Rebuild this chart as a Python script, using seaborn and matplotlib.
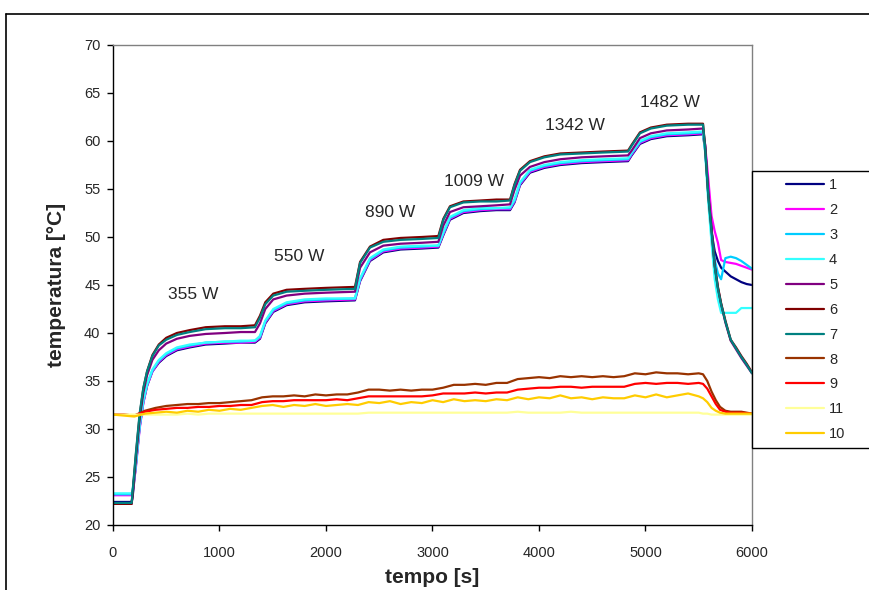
import matplotlib
matplotlib.use("Agg")
import matplotlib.pyplot as plt
from matplotlib.lines import Line2D
from matplotlib.patches import Rectangle
import pandas as pd
import seaborn as sns

sns.set_theme(style="ticks")
plt.rcParams["font.family"] = ["Liberation Sans", "DejaVu Sans"]

# sampling times of the heated sensors (1-7)
t_main = [0, 175, 185, 215, 250, 285, 320, 370, 430, 500, 600, 720, 870, 1050, 1200, 1333,
          1380, 1430, 1505, 1630, 1800, 2000, 2272,
          2320, 2413, 2538, 2700, 2900, 3055,
          3102, 3164, 3290, 3450, 3600, 3728,
          3770, 3822, 3915, 4050, 4200, 4400, 4600, 4836,
          4870, 4948, 5050, 5200, 5400, 5540,
          5560, 5590, 5620, 5650, 5680, 5710, 5750, 5800, 5850, 5900, 5950, 6000]

T1 = [22.4, 22.4, 23.0, 26.3, 30.2, 32.8, 34.5, 36.0, 36.9, 37.6, 38.2, 38.5, 38.8, 38.9, 39.0, 39.0,
      39.4, 41.0, 42.2, 42.9, 43.2, 43.3, 43.4,
      45.4, 47.5, 48.4, 48.7, 48.8, 48.9,
      50.2, 51.8, 52.5, 52.7, 52.8, 52.8,
      53.6, 55.4, 56.7, 57.2, 57.5, 57.7, 57.8, 57.9,
      58.5, 59.7, 60.2, 60.5, 60.6, 60.7,
      59.0, 54.5, 50.5, 48.5, 47.5, 46.8, 46.4, 45.9, 45.6, 45.3, 45.1, 45.0]
T2 = [23.1, 23.1, 23.5, 26.0, 30.0, 32.7, 34.5, 36.0, 37.0, 37.7, 38.3, 38.6, 38.9, 39.0, 39.0, 39.1,
      39.5, 41.1, 42.3, 43.0, 43.3, 43.4, 43.5,
      45.5, 47.6, 48.5, 48.8, 48.9, 49.0,
      50.3, 51.9, 52.6, 52.8, 52.9, 52.9,
      53.7, 55.5, 56.8, 57.3, 57.6, 57.8, 57.9, 58.0,
      58.6, 59.8, 60.3, 60.6, 60.7, 60.8,
      59.6, 56.0, 52.2, 50.6, 49.4, 47.6, 47.4, 47.3, 47.2, 47.0, 46.8, 46.6]
T3 = [23.2, 23.2, 23.6, 26.2, 30.2, 32.9, 34.6, 36.1, 37.1, 37.8, 38.4, 38.7, 39.0, 39.1, 39.1, 39.2,
      39.6, 41.2, 42.4, 43.1, 43.4, 43.5, 43.6,
      45.6, 47.7, 48.6, 48.9, 49.0, 49.1,
      50.4, 52.0, 52.7, 52.9, 53.0, 53.0,
      53.8, 55.6, 56.9, 57.4, 57.7, 57.9, 58.0, 58.1,
      58.7, 59.9, 60.4, 60.7, 60.8, 60.9,
      59.2, 54.4, 50.6, 47.6, 46.2, 45.6, 47.8, 47.95, 47.8, 47.5, 47.1, 46.7]
T4 = [23.3, 23.3, 23.7, 26.4, 30.4, 33.0, 34.7, 36.2, 37.2, 37.9, 38.5, 38.8, 39.0, 39.1, 39.2, 39.2,
      39.7, 41.3, 42.5, 43.2, 43.5, 43.6, 43.6,
      45.7, 47.8, 48.7, 49.0, 49.1, 49.1,
      50.5, 52.1, 52.8, 53.0, 53.0, 53.1,
      53.9, 55.7, 57.0, 57.5, 57.8, 58.0, 58.1, 58.2,
      58.8, 60.0, 60.5, 60.8, 60.9, 61.0,
      58.8, 53.5, 49.4, 45.6, 43.5, 42.1, 42.1, 42.1, 42.1, 42.6, 42.6, 42.6]
T5 = [22.2, 22.2, 23.2, 26.9, 31.0, 33.8, 35.6, 37.2, 38.2, 38.9, 39.4, 39.7, 39.9, 40.0, 40.1, 40.1,
      41.0, 42.5, 43.5, 43.9, 44.1, 44.2, 44.3,
      46.8, 48.4, 49.1, 49.3, 49.4, 49.5,
      51.2, 52.6, 53.1, 53.2, 53.3, 53.4,
      54.9, 56.4, 57.3, 57.8, 58.1, 58.3, 58.4, 58.5,
      59.0, 60.3, 60.8, 61.1, 61.2, 61.3,
      59.6, 54.6, 51.0, 47.1, 44.7, 43.0, 41.1, 39.2, 38.3, 37.4, 36.6, 35.8]
T6 = [22.2, 22.2, 23.4, 27.3, 31.4, 34.2, 36.0, 37.7, 38.8, 39.5, 40.0, 40.3, 40.6, 40.7, 40.7, 40.8,
      41.8, 43.2, 44.1, 44.5, 44.6, 44.7, 44.8,
      47.4, 49.0, 49.7, 49.9, 50.0, 50.1,
      51.9, 53.2, 53.7, 53.8, 53.9, 53.9,
      55.5, 57.0, 57.9, 58.4, 58.7, 58.8, 58.9, 59.0,
      59.6, 60.9, 61.4, 61.7, 61.8, 61.8,
      59.4, 54.3, 50.8, 47.0, 44.8, 43.1, 41.3, 39.3, 38.5, 37.6, 36.8, 35.9]
T7 = [22.3, 22.3, 23.6, 27.5, 31.6, 34.3, 36.0, 37.6, 38.7, 39.3, 39.8, 40.1, 40.4, 40.5, 40.5, 40.6,
      41.6, 43.0, 43.9, 44.3, 44.4, 44.5, 44.6,
      47.3, 48.9, 49.5, 49.7, 49.8, 49.9,
      51.8, 53.1, 53.6, 53.7, 53.7, 53.8,
      55.4, 56.9, 57.8, 58.3, 58.6, 58.7, 58.8, 58.9,
      59.5, 60.8, 61.3, 61.6, 61.7, 61.7,
      59.3, 54.2, 50.6, 46.9, 44.6, 43.0, 41.2, 39.3, 38.4, 37.5, 36.7, 35.8]

# sampling times of the outer sensors (8-11)
t_low = [0, 100, 200, 300, 400, 500, 600, 700, 800, 900,
         1000, 1100, 1200, 1300, 1400, 1500, 1600, 1700, 1800, 1900,
         2000, 2100, 2200, 2300, 2400, 2500, 2600, 2700, 2800, 2900,
         3000, 3100, 3200, 3300, 3400, 3500, 3600, 3700, 3800, 3900,
         4000, 4100, 4200, 4300, 4400, 4500, 4600, 4700, 4800, 4900,
         5000, 5100, 5200, 5300, 5400, 5500,
         5540, 5580, 5620, 5660, 5700, 5750, 5800, 5900, 6000]

T8 = [31.5, 31.5, 31.4, 31.9, 32.2, 32.4, 32.5, 32.6, 32.6, 32.7,
      32.7, 32.8, 32.9, 33.0, 33.3, 33.4, 33.4, 33.5, 33.4, 33.6,
      33.5, 33.6, 33.6, 33.8, 34.1, 34.1, 34.0, 34.1, 34.0, 34.1,
      34.1, 34.3, 34.6, 34.6, 34.7, 34.6, 34.8, 34.8, 35.2, 35.3,
      35.4, 35.3, 35.5, 35.4, 35.5, 35.4, 35.5, 35.4, 35.5, 35.8,
      35.7, 35.9, 35.8, 35.8, 35.7, 35.8,
      35.7, 35.0, 33.9, 33.0, 32.3, 31.9, 31.8, 31.8, 31.6]
T9 = [31.5, 31.5, 31.4, 31.8, 32.0, 32.1, 32.2, 32.2, 32.3, 32.3,
      32.4, 32.4, 32.5, 32.5, 32.8, 32.9, 32.9, 33.0, 33.0, 33.0,
      33.0, 33.1, 33.0, 33.2, 33.4, 33.4, 33.4, 33.4, 33.4, 33.4,
      33.5, 33.7, 33.7, 33.7, 33.8, 33.7, 33.8, 33.8, 34.1, 34.2,
      34.3, 34.3, 34.4, 34.4, 34.3, 34.4, 34.4, 34.4, 34.4, 34.7,
      34.8, 34.7, 34.8, 34.8, 34.7, 34.8,
      34.7, 34.2, 33.4, 32.6, 32.0, 31.8, 31.7, 31.7, 31.6]
T10 = [31.5, 31.4, 31.3, 31.6, 31.7, 31.8, 31.7, 31.9, 31.8, 32.0,
       31.9, 32.1, 32.0, 32.2, 32.4, 32.5, 32.3, 32.5, 32.4, 32.6,
       32.4, 32.5, 32.6, 32.5, 32.8, 32.7, 32.9, 32.6, 32.8, 32.7,
       33.0, 32.8, 33.1, 32.9, 33.0, 32.9, 33.1, 33.0, 33.3, 33.1,
       33.3, 33.2, 33.5, 33.2, 33.3, 33.1, 33.3, 33.2, 33.2, 33.5,
       33.3, 33.6, 33.3, 33.5, 33.7, 33.4,
       33.2, 32.8, 32.2, 31.9, 31.7, 31.6, 31.6, 31.6, 31.6]
T11 = [31.5, 31.5, 31.5, 31.5, 31.5, 31.5, 31.5, 31.6, 31.5, 31.6,
       31.6, 31.6, 31.6, 31.6, 31.6, 31.6, 31.6, 31.6, 31.6, 31.6,
       31.6, 31.6, 31.6, 31.6, 31.7, 31.7, 31.7, 31.7, 31.7, 31.7,
       31.7, 31.7, 31.7, 31.7, 31.7, 31.7, 31.7, 31.7, 31.8, 31.7,
       31.7, 31.7, 31.7, 31.8, 31.7, 31.7, 31.7, 31.7, 31.7, 31.7,
       31.7, 31.7, 31.7, 31.7, 31.7, 31.7,
       31.6, 31.6, 31.5, 31.5, 31.5, 31.5, 31.5, 31.5, 31.5]

# heating power steps: label, time, temperature position
power_labels = ["355 W", "550 W", "890 W", "1009 W", "1342 W", "1482 W"]
power_t = [751, 1746, 2601, 3390, 4338, 5230]
power_T = [44.0, 48.0, 52.6, 55.8, 61.6, 64.0]

order = ["1", "2", "3", "4", "5", "6", "7", "8", "9", "11", "10"]
colors = {"1": "#000080", "2": "#FF00FF", "3": "#00CCFF", "4": "#33FFFF",
          "5": "#800080", "6": "#800000", "7": "#008080", "8": "#993300",
          "9": "#FF0000", "11": "#FFFF99", "10": "#FFCC00"}

series = {"1": (t_main, T1), "2": (t_main, T2), "3": (t_main, T3), "4": (t_main, T4),
          "5": (t_main, T5), "6": (t_main, T6), "7": (t_main, T7),
          "8": (t_low, T8), "9": (t_low, T9), "11": (t_low, T11), "10": (t_low, T10)}
df = pd.concat([pd.DataFrame({"tempo": t, "temperatura": T, "sensore": k})
                for k, (t, T) in series.items()], ignore_index=True)

fig = plt.figure(figsize=(8.7, 5.9), dpi=100)
ax = fig.add_axes([113 / 870, 1 - 525 / 590, 639 / 870, 480 / 590])

sns.lineplot(data=df, x="tempo", y="temperatura", hue="sensore", hue_order=order,
             palette=colors, estimator=None, sort=False, linewidth=1.6, ax=ax)

handles, labels = ax.get_legend_handles_labels()
ax.get_legend().remove()

ax.set_xlim(0, 6000)
ax.set_ylim(20, 70)
ax.set_xticks(range(0, 6001, 1000))
ax.set_yticks(range(20, 71, 5))
ax.tick_params(direction="out", length=4, width=1, color="black", labelsize=10.5)
ax.tick_params(axis="x", pad=11)
ax.tick_params(axis="y", pad=5)
ax.set_xlabel("tempo [s]", fontsize=15, fontweight="bold", labelpad=6)
ax.set_ylabel("temperatura [°C]", fontsize=15, fontweight="bold", labelpad=13)
for side in ["left", "bottom"]:
    ax.spines[side].set_color("black")
    ax.spines[side].set_linewidth(1.0)
for side in ["top", "right"]:
    ax.spines[side].set_color("#808080")
    ax.spines[side].set_linewidth(1.0)

for lab, t, T in zip(power_labels, power_t, power_T):
    ax.text(t, T, lab, ha="center", va="center", fontsize=12.5)

# outer chart border (Excel style)
fig.add_artist(Line2D([6 / 870, 1], [1 - 14 / 590, 1 - 14 / 590],
                      transform=fig.transFigure, color="black", lw=1.2))
fig.add_artist(Line2D([6 / 870, 6 / 870], [0, 1 - 14 / 590],
                      transform=fig.transFigure, color="black", lw=1.2))

# legend box
fig.add_artist(Rectangle((752 / 870, 1 - 448 / 590), 0.2, 277 / 590,
                         transform=fig.transFigure, facecolor="white",
                         edgecolor="black", lw=1.0))
leg = fig.legend(handles, labels, loc="upper left", bbox_to_anchor=(786 / 870, 1 - 178 / 590),
                 frameon=False, fontsize=10.5, borderpad=0, borderaxespad=0,
                 handlelength=2.6, handletextpad=0.35, labelspacing=0.75)
for h in leg.get_lines():
    h.set_linewidth(1.6)

fig.savefig("out.png", dpi=100)
